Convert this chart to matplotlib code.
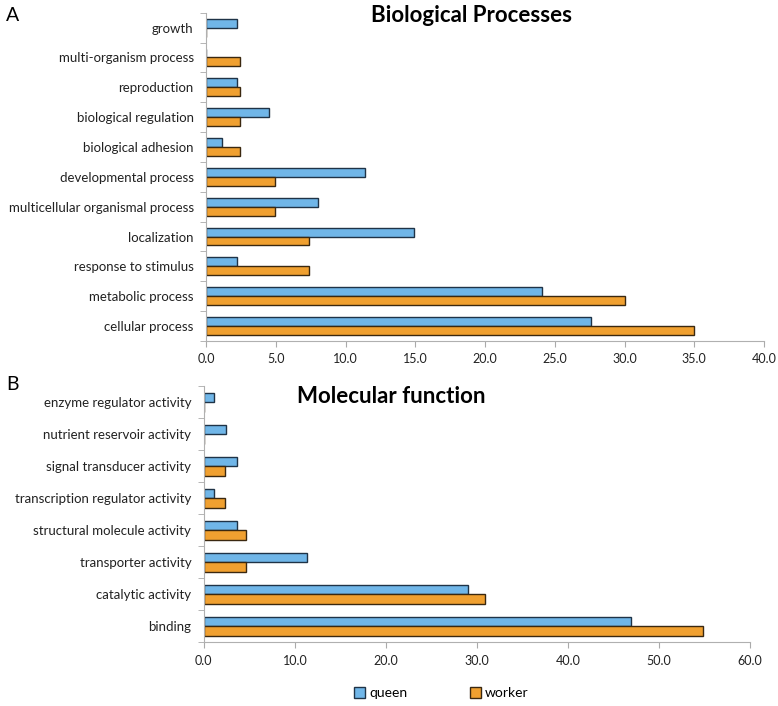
import numpy as np
import matplotlib.pyplot as plt
from matplotlib.patches import Patch

plt.rcParams['font.family'] = ['Lato', 'DejaVu Sans']

# panel A - biological processes (top to bottom)
bp_categories = ["growth", "multi-organism process", "reproduction",
                 "biological regulation", "biological adhesion",
                 "developmental process", "multicellular organismal process",
                 "localization", "response to stimulus", "metabolic process",
                 "cellular process"]
bp_queen = [2.2, 0.0, 2.2, 4.5, 1.1, 11.4, 8.0, 14.9, 2.2, 24.1, 27.6]
bp_worker = [0.0, 2.4, 2.4, 2.4, 2.4, 4.9, 4.9, 7.4, 7.4, 30.0, 35.0]
bp_ticks = [0, 5, 10, 15, 20, 25, 30, 35, 40]

# panel B - molecular function (top to bottom)
mf_categories = ["enzyme regulator activity", "nutrient reservoir activity",
                 "signal transducer activity", "transcription regulator activity",
                 "structural molecule activity", "transporter activity",
                 "catalytic activity", "binding"]
mf_queen = [1.1, 2.4, 3.6, 1.1, 3.6, 11.3, 29.0, 46.9]
mf_worker = [0.0, 0.0, 2.3, 2.3, 4.6, 4.6, 30.9, 54.8]
mf_ticks = [0, 10, 20, 30, 40, 50, 60]

queen_color = "#70b6e8"
worker_color = "#f0a030"
queen_edge = "#1f3347"
worker_edge = "#3a2810"


def draw_panel(ax, cats, queen, worker, ticks, title, title_x, title_y):
    y = np.arange(len(cats))
    h = 0.3
    ax.barh(y - h / 2, queen, height=h, color=queen_color,
            edgecolor=queen_edge, linewidth=1.0)
    ax.barh(y + h / 2, worker, height=h, color=worker_color,
            edgecolor=worker_edge, linewidth=1.0)
    ax.set_ylim(len(cats) - 0.5, -0.5)
    ax.set_yticks(y)
    ax.set_yticklabels(cats, fontsize=9.5, color="#222222")
    ax.set_yticks(np.arange(len(cats) + 1) - 0.5, minor=True)
    ax.tick_params(axis="y", which="major", length=0, pad=9)
    ax.tick_params(axis="y", which="minor", length=4, color="#aaaaaa")
    ax.set_xlim(ticks[0], ticks[-1])
    ax.set_xticks(ticks)
    ax.set_xticklabels(["%.1f" % t for t in ticks], fontsize=9, color="#222222")
    ax.tick_params(axis="x", length=4, color="#aaaaaa", pad=5)
    for s in ["top", "right"]:
        ax.spines[s].set_visible(False)
    for s in ["left", "bottom"]:
        ax.spines[s].set_color("#b0b0b0")
    ax.text(title_x, title_y, title, transform=ax.transAxes, ha="center",
            va="center", fontsize=16, fontweight="bold")


fig = plt.figure(figsize=(7.78, 7.06), dpi=100)
ax1 = fig.add_axes([0.265, 0.517, 0.717, 0.465])
ax2 = fig.add_axes([0.262, 0.09, 0.702, 0.363])

draw_panel(ax1, bp_categories, bp_queen, bp_worker, bp_ticks,
           "Biological Processes", 0.475, 0.99)
draw_panel(ax2, mf_categories, mf_queen, mf_worker, mf_ticks,
           "Molecular function", 0.343, 0.96)

fig.text(0.008, 0.978, "A", fontsize=14, va="center")
fig.text(0.008, 0.455, "B", fontsize=14, va="center")

handles = [Patch(facecolor=queen_color, edgecolor=queen_edge, label="queen"),
           Patch(facecolor=worker_color, edgecolor=worker_edge, label="worker")]
fig.legend(handles=handles, loc="center", bbox_to_anchor=(0.567, 0.018),
           ncol=2, frameon=False, fontsize=10, handlelength=0.8,
           handleheight=0.8, handletextpad=0.3, columnspacing=4.5)

fig.savefig("out.png", dpi=100)
